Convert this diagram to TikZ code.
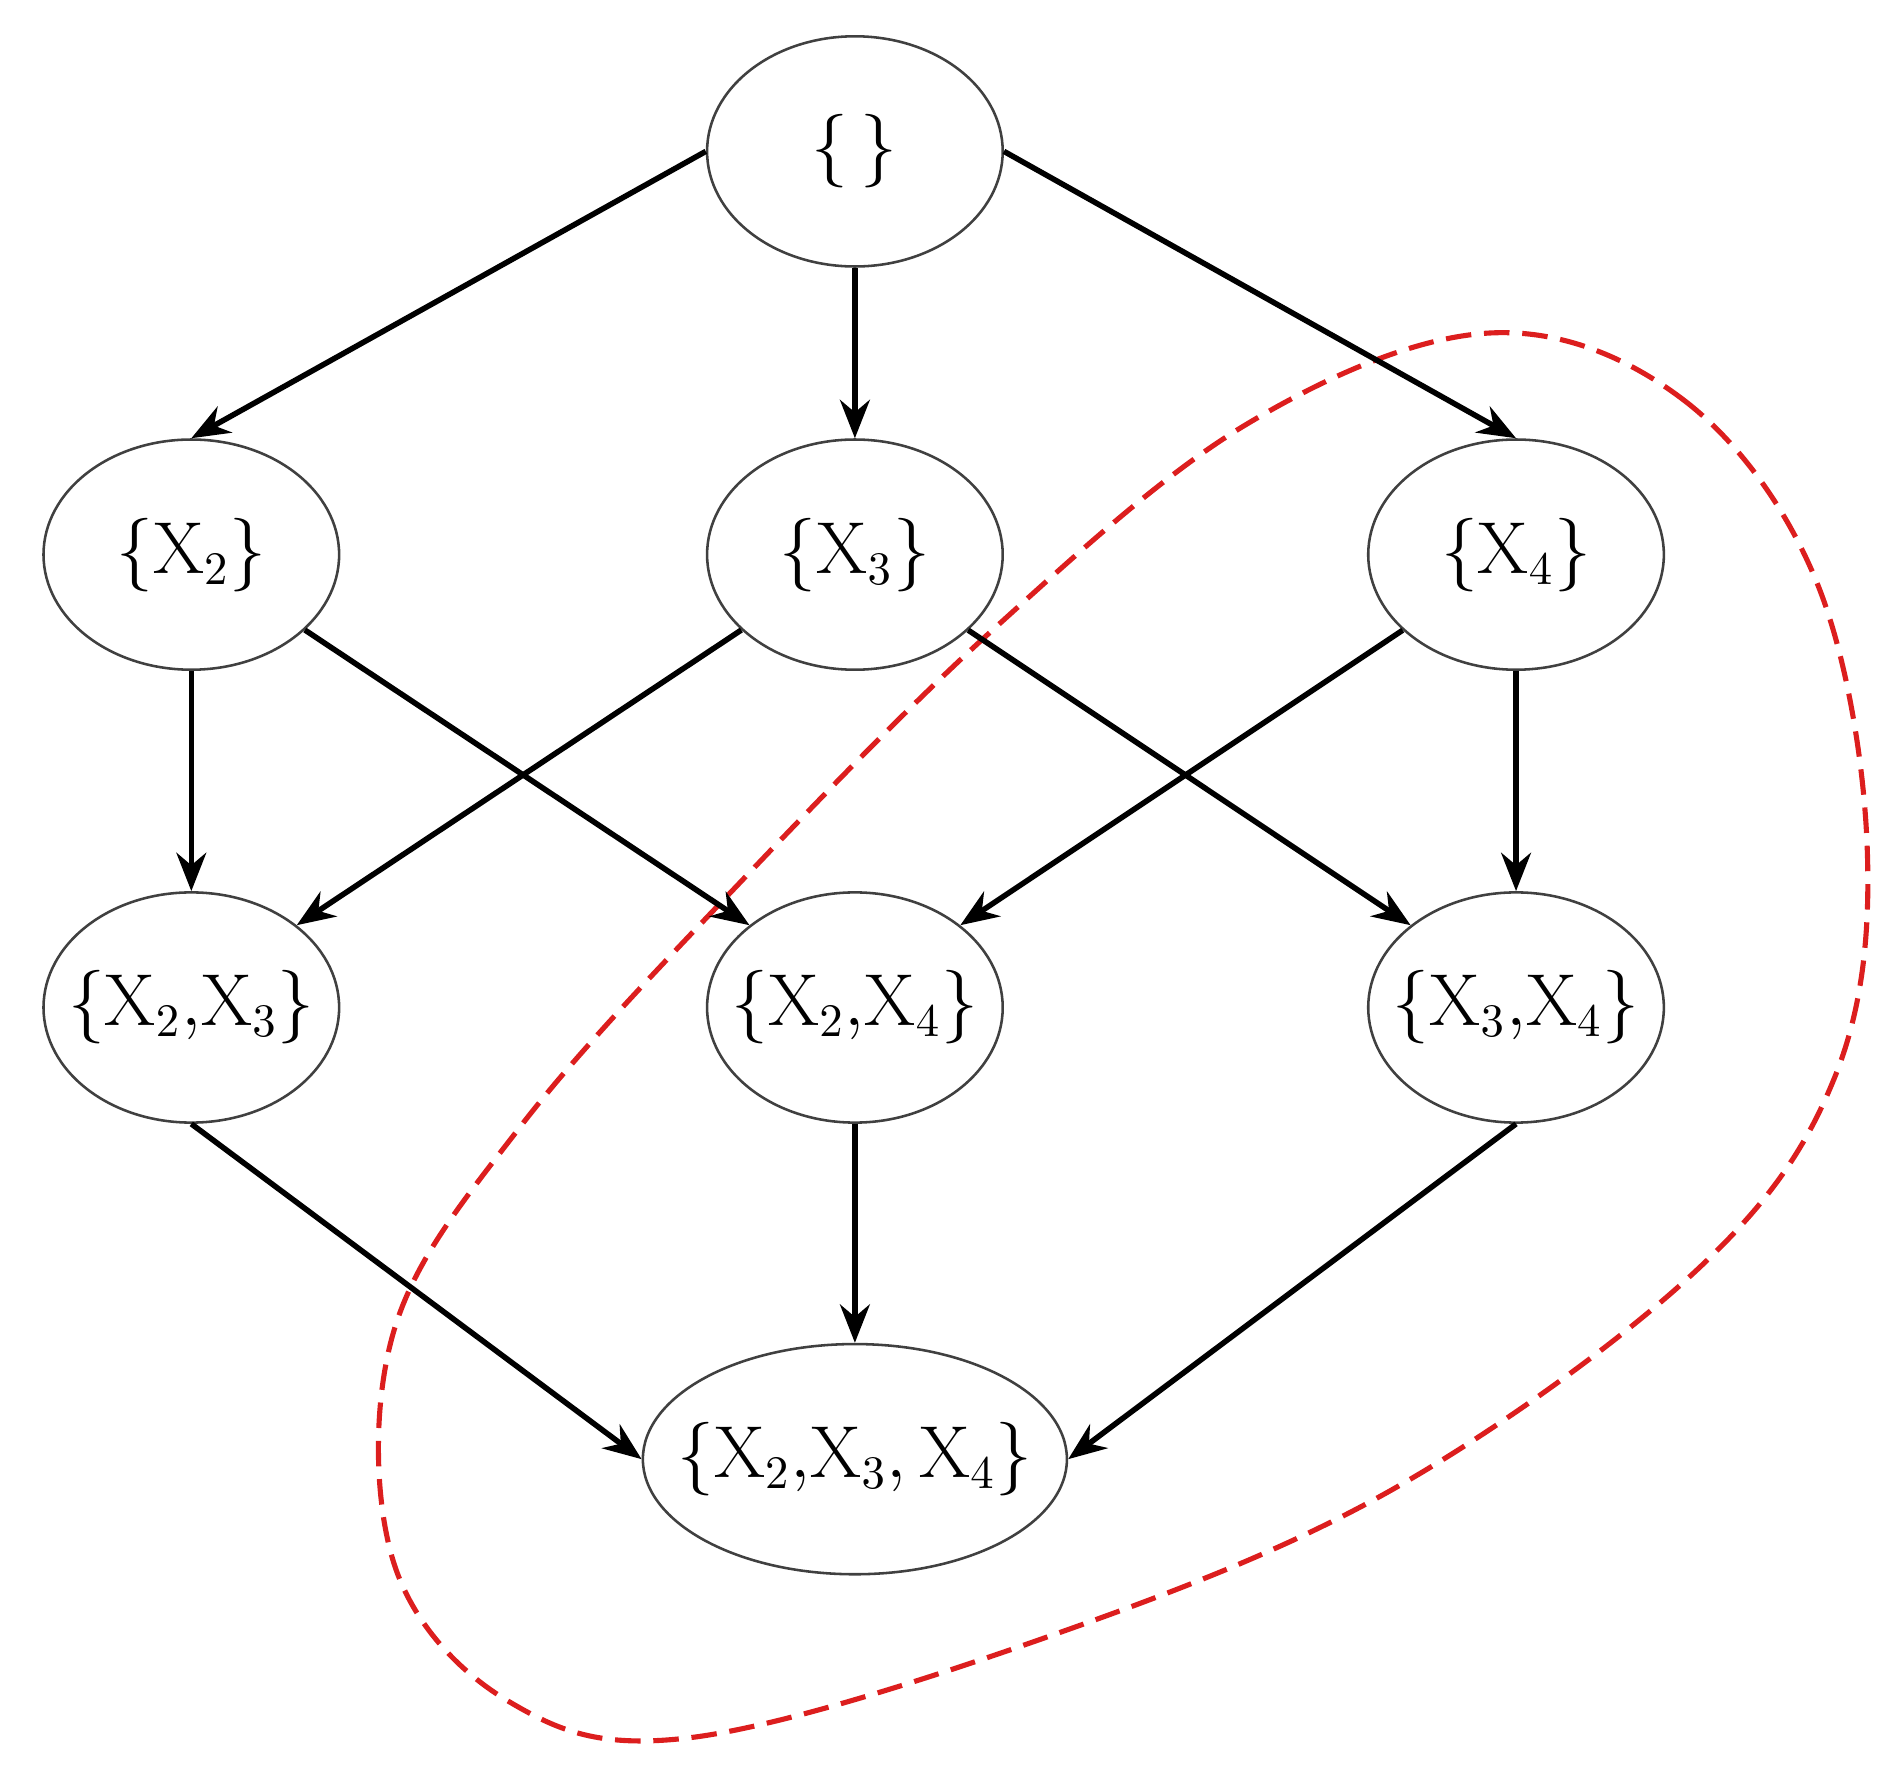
\documentclass[tikz,border=0pt]{standalone}
\usepackage{amsmath}
\usepackage{tikz}
\usetikzlibrary{positioning, arrows.meta, shapes.geometric}
\definecolor{loopred}{RGB}{220,30,30}

\begin{document}
\begin{tikzpicture}[x=0.01cm, y=-0.01cm,
  set/.style={
    ellipse, draw=black!75, line width=0.6pt, fill=white,
    minimum width=2.44cm, minimum height=1.9cm, inner ysep=0pt, inner xsep=-0.5cm,
    font=\fontsize{16}{19}\selectfont
  },
  edge/.style={-{Stealth[length=9pt,width=7pt]}, line width=1.3pt}
]
\useasboundingbox (0,0) rectangle (1560,1468);

% the dashed loop sits behind the lattice
\draw[loopred, dashed, line width=1.2pt, dash pattern=on 6pt off 3pt]
  plot[smooth cycle, tension=0.6] coordinates {
    (1230,275) (1390,330) (1500,480) (1542,700) (1515,890) (1400,1050)
    (1150,1230) (870,1350) (570,1435) (420,1405) (325,1290) (325,1100)
    (430,930) (610,730) (820,520) (1030,350)};

\node[set] (e)   at (706,125)  {$\{\,\}$};
\node[set] (x2)  at (158,458)  {$\{\mathrm{X}_2\}$};
\node[set] (x3)  at (706,458)  {$\{\mathrm{X}_3\}$};
\node[set] (x4)  at (1252,458) {$\{\mathrm{X}_4\}$};
\node[set] (x23) at (158,832)  {$\{\mathrm{X}_2{,}\mathrm{X}_3\}$};
\node[set] (x24) at (706,832)  {$\{\mathrm{X}_2{,}\mathrm{X}_4\}$};
\node[set] (x34) at (1252,832) {$\{\mathrm{X}_3{,}\mathrm{X}_4\}$};
\node[set, minimum width=3.5cm] (x234) at (706,1205) {$\{\mathrm{X}_2{,}\mathrm{X}_3{,}\,\mathrm{X}_4\}$};

\draw[edge] (e.west) -- (x2.north);
\draw[edge] (e) -- (x3);
\draw[edge] (e.east) -- (x4.north);
\draw[edge] (x2) -- (x23);
\draw[edge] (x2) -- (x24.north west);
\draw[edge] (x3) -- (x23.north east);
\draw[edge] (x3) -- (x34.north west);
\draw[edge] (x4) -- (x24.north east);
\draw[edge] (x4) -- (x34);
\draw[edge] (x23.south) -- (x234.west);
\draw[edge] (x24) -- (x234);
\draw[edge] (x34.south) -- (x234.east);

\end{tikzpicture}
\end{document}
